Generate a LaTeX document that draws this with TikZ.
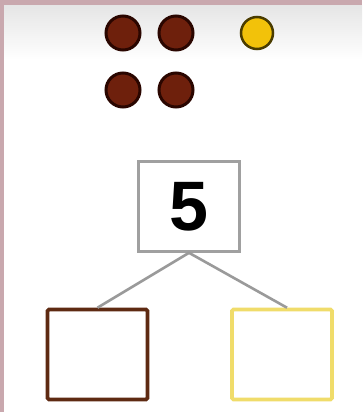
\documentclass[tikz,border=0pt]{standalone}
\usepackage{fontspec}
\setmainfont{Liberation Sans}
\definecolor{dotbrown}{HTML}{6E200C}
\definecolor{dotedge}{HTML}{2A0600}
\definecolor{dotyellow}{HTML}{F2C20A}
\definecolor{yedge}{HTML}{4A3C00}
\definecolor{frame}{HTML}{C9A8AE}
\definecolor{boxgray}{HTML}{A0A0A0}
\definecolor{linegray}{HTML}{9A9A9A}
\definecolor{lbox}{HTML}{5E2A12}
\definecolor{rbox}{HTML}{F0DC6A}
\tikzset{
  bdot/.style={circle, fill=dotbrown, draw=dotedge, line width=3pt, minimum size=34pt, inner sep=0pt},
  ydot/.style={circle, fill=dotyellow, draw=yedge, line width=2.5pt, minimum size=32pt, inner sep=0pt},
  numbox/.style={draw=boxgray, line width=2.6pt, minimum width=101pt, minimum height=90pt, inner sep=0pt, fill=white},
  partbox/.style={line width=3.6pt, minimum width=100pt, minimum height=90pt, inner sep=0pt, rounded corners=1.5pt},
  link/.style={draw=linegray, line width=2.6pt}
}
\begin{document}
\begin{tikzpicture}[x=1pt,y=-1pt]
\useasboundingbox (0,0) rectangle (362,412);
\fill[frame] (0,0) rectangle (362,412);
\shade[top color=gray!20, bottom color=white] (4,6) rectangle (362,60);
\fill[white] (4,60) rectangle (362,412);
\node[bdot] (d1) at (123,33) {};
\node[bdot] (d2) at (176,33) {};
\node[bdot] (d3) at (123,90) {};
\node[bdot] (d4) at (176,90) {};
\node[ydot] (d5) at (257,33) {};
\node[numbox] (n) at (189,206.5) {\fontsize{70}{70}\selectfont\bfseries 5};
\node[partbox, draw=lbox] (l) at (97.5,354.5) {};
\node[partbox, draw=rbox] (r) at (282,354.5) {};
\draw[link] (n.south) -- (l.north);
\draw[link] (n.south) -- ([xshift=5pt]r.north);
\end{tikzpicture}
\end{document}
